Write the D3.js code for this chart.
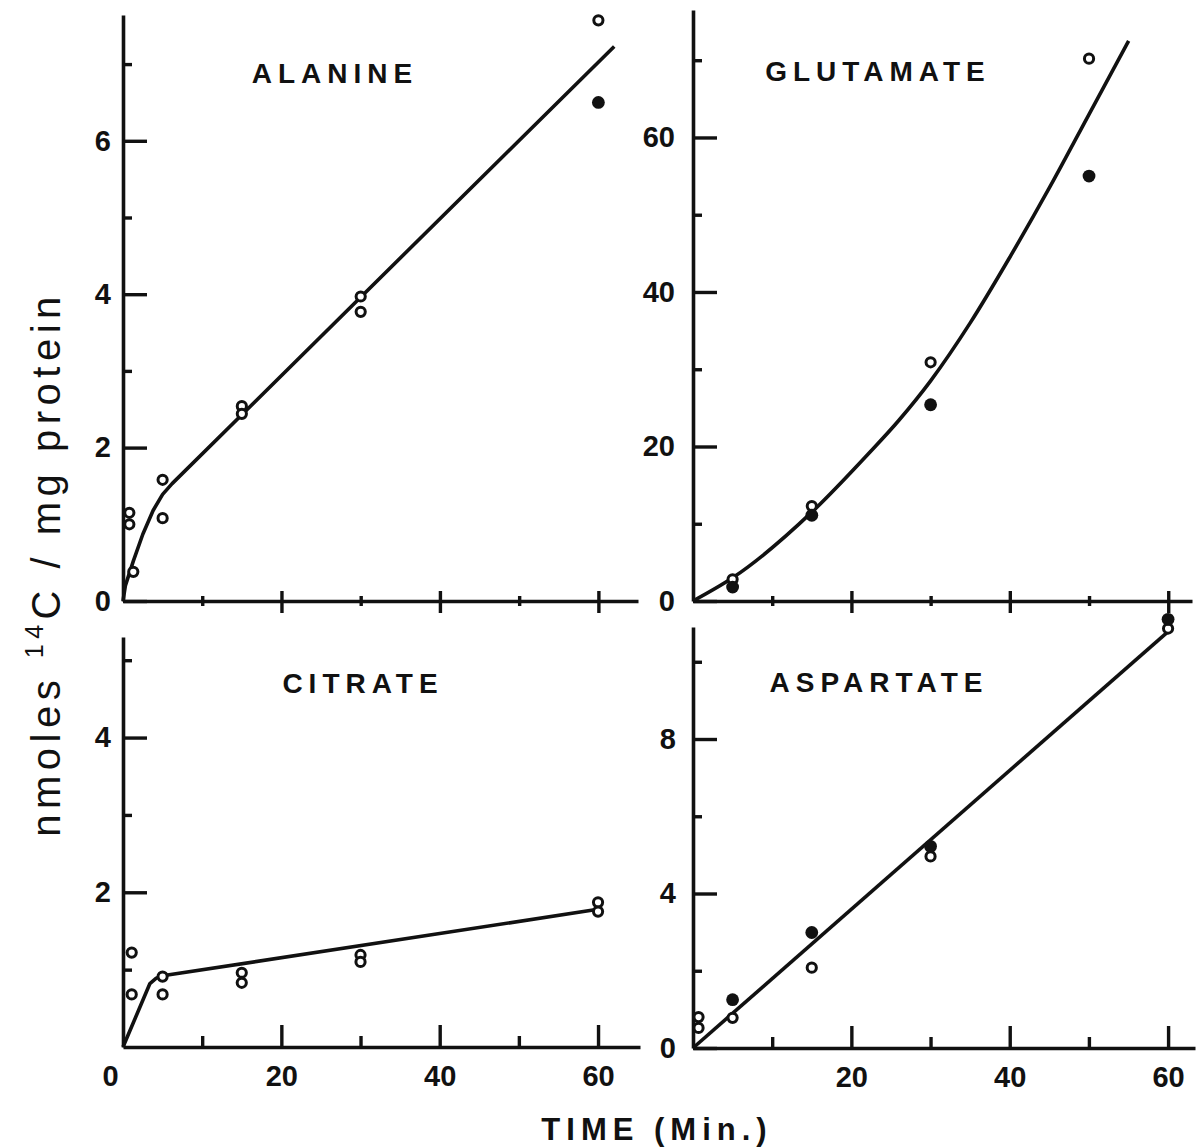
<!DOCTYPE html>
<html>
<head>
<meta charset="utf-8">
<script src="https://cdn.jsdelivr.net/npm/d3@7"></script>
<style>
  body { margin: 0; background: #fff; }
  text { font-family: "Liberation Sans", Arial, sans-serif; fill: #111; }
</style>
</head>
<body>
<script>
var width = 1200
var height = 1148

// data: [time (min), nmoles 14C / mg protein]
var alanineOpen = [[0.8, 1.15], [0.8, 1.0], [1.3, 0.38], [5, 1.58], [5, 1.08], [15, 2.54], [15, 2.44], [30, 3.97], [30, 3.77], [60, 7.57]]
var alanineFilled = [[60, 6.5]]
var alanineFit = [[0, 0], [0.3, 0.2], [1.3, 0.52], [2.5, 0.87], [3.8, 1.18], [5, 1.39], [6.2, 1.53], [62, 7.23]]

var glutamateOpen = [[5, 2.8], [15, 12.3], [30, 30.9], [50, 70.2]]
var glutamateFilled = [[5, 1.8], [15, 11.1], [30, 25.4], [50, 55]]
var glutamateFit = [[0, 0], [5, 3], [15, 11.5], [22, 18.9], [26, 23.4], [30, 28.5], [35, 36], [40, 44.5], [45, 53.5], [50, 63], [55, 72.5]]

var citrateOpen = [[1.1, 1.22], [1.1, 0.68], [5, 0.91], [5, 0.68], [15, 0.96], [15, 0.83], [30, 1.19], [30, 1.1], [60, 1.87], [60, 1.75]]
var citrateFilled = []
var citrateFit = [[0, 0], [3.4, 0.82], [4.2, 0.89], [5, 0.92], [60, 1.78]]

var aspartateOpen = [[0.7, 0.8], [0.7, 0.52], [5, 0.78], [15, 2.08], [30, 4.96], [60, 10.86]]
var aspartateFilled = [[5, 1.25], [15, 2.99], [30, 5.22], [60, 11.1]]
var aspartateFit = [[0, 0], [60, 10.78]]

var xTicks = [0, 20, 40, 60]
var xMinor = [10, 30, 50]

var panels = [
  {name: "ALANINE", open: alanineOpen, filled: alanineFilled, fit: alanineFit, curve: d3.curveLinear,
   x0: 123, x1: 638, xMax: 65, y0: 601, y1: 15, yMax: 7.64,
   yTicks: [0, 2, 4, 6], yMinor: [1, 3, 5, 7], top: true, gap: 12, tx: 335, ty: 83},
  {name: "GLUTAMATE", open: glutamateOpen, filled: glutamateFilled, fit: glutamateFit, curve: d3.curveMonotoneX,
   x0: 693, x1: 1192, xMax: 63, y0: 601, y1: 10, yMax: 76.5,
   yTicks: [0, 20, 40, 60], yMinor: [10, 30, 50, 70], top: true, gap: 18, tx: 878, ty: 81},
  {name: "CITRATE", open: citrateOpen, filled: citrateFilled, fit: citrateFit, curve: d3.curveLinear,
   x0: 123, x1: 640, xMax: 65.3, y0: 1047, y1: 637, yMax: 5.3,
   yTicks: [2, 4], yMinor: [1, 3, 5], top: false, gap: 12, tx: 363, ty: 693},
  {name: "ASPARTATE", open: aspartateOpen, filled: aspartateFilled, fit: aspartateFit, curve: d3.curveLinear,
   x0: 693, x1: 1195, xMax: 63.4, y0: 1048, y1: 627, yMax: 10.9,
   yTicks: [0, 4, 8], yMinor: [2, 6, 10], top: false, gap: 17, tx: 879, ty: 692}
]

var svg = d3.select("body")
  .append("svg")
    .attr("width", width)
    .attr("height", height)

panels.forEach((p, i) => {
  var x = d3.scaleLinear().domain([0, p.xMax]).range([p.x0, p.x1])
  var y = d3.scaleLinear().domain([0, p.yMax]).range([p.y0, p.y1])
  var g = svg.append("g").attr("class", "panel")

  // y axis: major ticks pointing inward, labels on the left
  g.append("g")
    .attr("transform", "translate(" + p.x0 + ",0)")
    .call(d3.axisLeft(y).tickValues(p.yTicks).tickFormat((d) => d).tickSizeInner(-24).tickSizeOuter(0).tickPadding(p.gap))
    .call(styleAxis)
  g.append("g")
    .attr("transform", "translate(" + p.x0 + ",0)")
    .call(d3.axisLeft(y).tickValues(p.yMinor).tickSize(-9).tickFormat(""))
    .call(styleAxis)
    .select(".domain").remove()

  // x axis
  if (p.top) {
    g.append("g")
      .attr("transform", "translate(0," + p.y0 + ")")
      .call(d3.axisBottom(x).tickValues(xTicks.slice(1)).tickSizeInner(12).tickSizeOuter(0).tickFormat(""))
      .call(styleAxis)
    g.append("g")
      .attr("transform", "translate(0," + p.y0 + ")")
      .call(d3.axisBottom(x).tickValues(xTicks.slice(1)).tickSize(-10).tickFormat(""))
      .call(styleAxis)
      .select(".domain").remove()
    g.append("g")
      .attr("transform", "translate(0," + p.y0 + ")")
      .call(d3.axisBottom(x).tickValues(xMinor).tickSize(5).tickFormat(""))
      .call(styleAxis)
      .select(".domain").remove()
    g.append("g")
      .attr("transform", "translate(0," + p.y0 + ")")
      .call(d3.axisBottom(x).tickValues(xMinor).tickSize(-5).tickFormat(""))
      .call(styleAxis)
      .select(".domain").remove()
  } else {
    var vals = i == 2 ? xTicks : xTicks.slice(1)
    var ax = g.append("g")
      .attr("transform", "translate(0," + p.y0 + ")")
      .call(d3.axisBottom(x).tickValues(vals).tickSizeInner(-22).tickSizeOuter(0).tickPadding(18))
      .call(styleAxis)
    ax.selectAll(".tick").filter((d) => d == 0).select("line").remove()
    ax.selectAll(".tick").filter((d) => d == 0).select("text").attr("dx", -13)
    g.append("g")
      .attr("transform", "translate(0," + p.y0 + ")")
      .call(d3.axisBottom(x).tickValues(xMinor).tickSize(-11).tickFormat(""))
      .call(styleAxis)
      .select(".domain").remove()
  }

  // fitted curve
  var line = d3.line()
    .x((d) => x(d[0]))
    .y((d) => y(d[1]))
    .curve(p.curve)
  g.append("path")
    .datum(p.fit)
    .attr("d", line)
    .attr("fill", "none")
    .attr("stroke", "#111")
    .attr("stroke-width", 3.6)
    .attr("stroke-linejoin", "round")

  g.selectAll("circle.open").data(p.open).enter()
    .append("circle")
      .attr("class", "open")
      .attr("cx", (d) => x(d[0]))
      .attr("cy", (d) => y(d[1]))
      .attr("r", 4.6)
      .attr("fill", "#fff")
      .attr("stroke", "#111")
      .attr("stroke-width", 3)

  g.selectAll("circle.filled").data(p.filled).enter()
    .append("circle")
      .attr("class", "filled")
      .attr("cx", (d) => x(d[0]))
      .attr("cy", (d) => y(d[1]))
      .attr("r", 6.4)
      .attr("fill", "#111")

  g.append("text")
    .attr("x", p.tx)
    .attr("y", p.ty)
    .attr("text-anchor", "middle")
    .attr("font-size", "28px")
    .attr("font-weight", "bold")
    .style("letter-spacing", "6px")
    .text(p.name)
})

function styleAxis(sel) {
  sel.select(".domain").attr("stroke", "#111").attr("stroke-width", 3.6)
  sel.selectAll(".tick line").attr("stroke", "#111").attr("stroke-width", 3.4)
  sel.selectAll(".tick text")
    .attr("font-size", "29px")
    .attr("font-weight", "bold")
    .attr("font-family", "'Liberation Sans', Arial, sans-serif")
    .attr("fill", "#111")
}

// axis titles
var yTitle = svg.append("text")
  .attr("x", 60)
  .attr("y", 564)
  .attr("text-anchor", "middle")
  .attr("font-size", "40px")
  .style("letter-spacing", "5.5px")
  .attr("transform", "rotate(-90, 60, 564)")
yTitle.append("tspan").text("nmoles ")
yTitle.append("tspan").attr("font-size", "25px").attr("dy", -17).text("14")
yTitle.append("tspan").attr("dy", 17).text("C / mg protein")

svg.append("text")
  .attr("x", 657)
  .attr("y", 1140)
  .attr("text-anchor", "middle")
  .attr("font-size", "31px")
  .attr("font-weight", "bold")
  .style("letter-spacing", "6px")
  .text("TIME (Min.)")
</script>
</body>
</html>
